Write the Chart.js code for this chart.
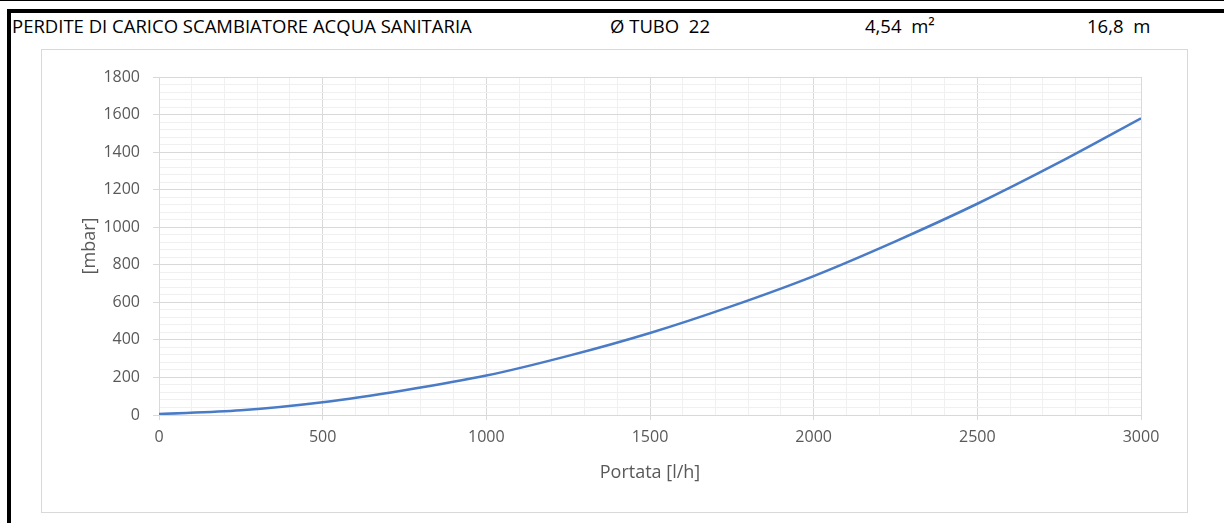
<!DOCTYPE html>
<html>
<head>
<meta charset="utf-8">
<script src="https://cdn.jsdelivr.net/npm/chart.js@4.4.1/dist/chart.umd.min.js"></script>
<style>
  html, body { margin:0; padding:0; background:#fff; }
  body { width:1224px; height:523px; position:relative; overflow:hidden; font-family:"Open Sans", sans-serif; }
  .line { position:absolute; background:#000; }
  .hdr { position:absolute; top:13px; font-size:18.5px; line-height:26px; color:#000; white-space:pre; }
  #frame { position:absolute; left:41px; top:49px; width:1145px; height:462px; border:1px solid #d9d9d9; }
  #wrap { position:absolute; left:42px; top:50px; width:1145px; height:462px; }
</style>
</head>
<body>
<div class="line" style="left:0;top:0;width:1224px;height:1px;"></div>
<div class="line" style="left:7px;top:9px;width:1217px;height:4px;"></div>
<div class="line" style="left:7px;top:9px;width:4px;height:514px;"></div>
<div class="hdr" id="h1" style="left:12px;">PERDITE DI CARICO SCAMBIATORE ACQUA SANITARIA</div>
<div class="hdr" id="h2" style="left:610px;">Ø TUBO  22</div>
<div class="hdr" id="h3" style="left:865px;">4,54  m²</div>
<div class="hdr" id="h4" style="left:1087px;">16,8  m</div>
<div id="frame"></div>
<div id="wrap"><canvas id="c" width="1145" height="462"></canvas></div>
<script>
const flowLh = [0, 250, 500, 750, 1000, 1250, 1500, 1750, 2000, 2250, 2500, 2750, 3000];
const lossMbar = [5, 25, 68, 132, 210, 315, 437, 580, 740, 925, 1125, 1345, 1580];
const xMajor = 500, xMinor = 100, xMax = 3000;
const yMajor = 200, yMinor = 40, yMax = 1800;
const xTitle = 'Portata [l/h]';
const yTitle = '[mbar]';

const tickFont = { family: 'Open Sans', size: 16 };
const titleFont = { family: 'Open Sans', size: 18 };
const majorC = '#d9d9d9', minorC = '#f0f0f0';

new Chart(document.getElementById('c'), {
  type: 'line',
  data: {
    datasets: [{
      data: flowLh.map((x, i) => ({ x: x, y: lossMbar[i] })),
      borderColor: '#4A7BC6',
      borderWidth: 2.5,
      pointRadius: 0,
      cubicInterpolationMode: 'monotone',
      fill: false
    }]
  },
  options: {
    responsive: false,
    animation: false,
    layout: { padding: { left: 0, right: 46, top: 27, bottom: 0 } },
    plugins: { legend: { display: false }, tooltip: { enabled: false } },
    scales: {
      x: {
        type: 'linear', min: 0, max: xMax,
        afterFit: s => { s.height = 97; },
        ticks: {
          stepSize: xMinor, autoSkip: false, maxRotation: 0, minRotation: 0,
          color: '#595959', font: tickFont, padding: 8,
          callback: v => (v % xMajor === 0 ? String(v) : '')
        },
        grid: {
          color: c => (c.tick && c.tick.value % xMajor === 0 ? majorC : minorC),
          tickColor: c => (c.tick && c.tick.value % xMajor === 0 ? majorC : 'rgba(0,0,0,0)'),
          tickLength: 5, lineWidth: 1
        },
        border: { color: majorC },
        title: { display: true, text: xTitle, color: '#595959', font: titleFont, padding: { top: 0, bottom: 28.4 } }
      },
      y: {
        type: 'linear', min: 0, max: yMax,
        afterFit: s => { s.width = 117; },
        ticks: {
          stepSize: yMinor, autoSkip: false,
          color: '#595959', font: tickFont, padding: 13,
          callback: v => (v % yMajor === 0 ? String(v) : '')
        },
        grid: {
          color: c => (c.tick && c.tick.value % yMajor === 0 ? majorC : minorC),
          tickColor: c => (c.tick && c.tick.value % yMajor === 0 ? majorC : 'rgba(0,0,0,0)'),
          tickLength: 6, lineWidth: 1
        },
        border: { color: majorC },
        title: { display: true, text: yTitle, color: '#595959', font: titleFont, padding: { top: 37.4, bottom: 0 } }
      }
    }
  }
});
</script>
</body>
</html>
